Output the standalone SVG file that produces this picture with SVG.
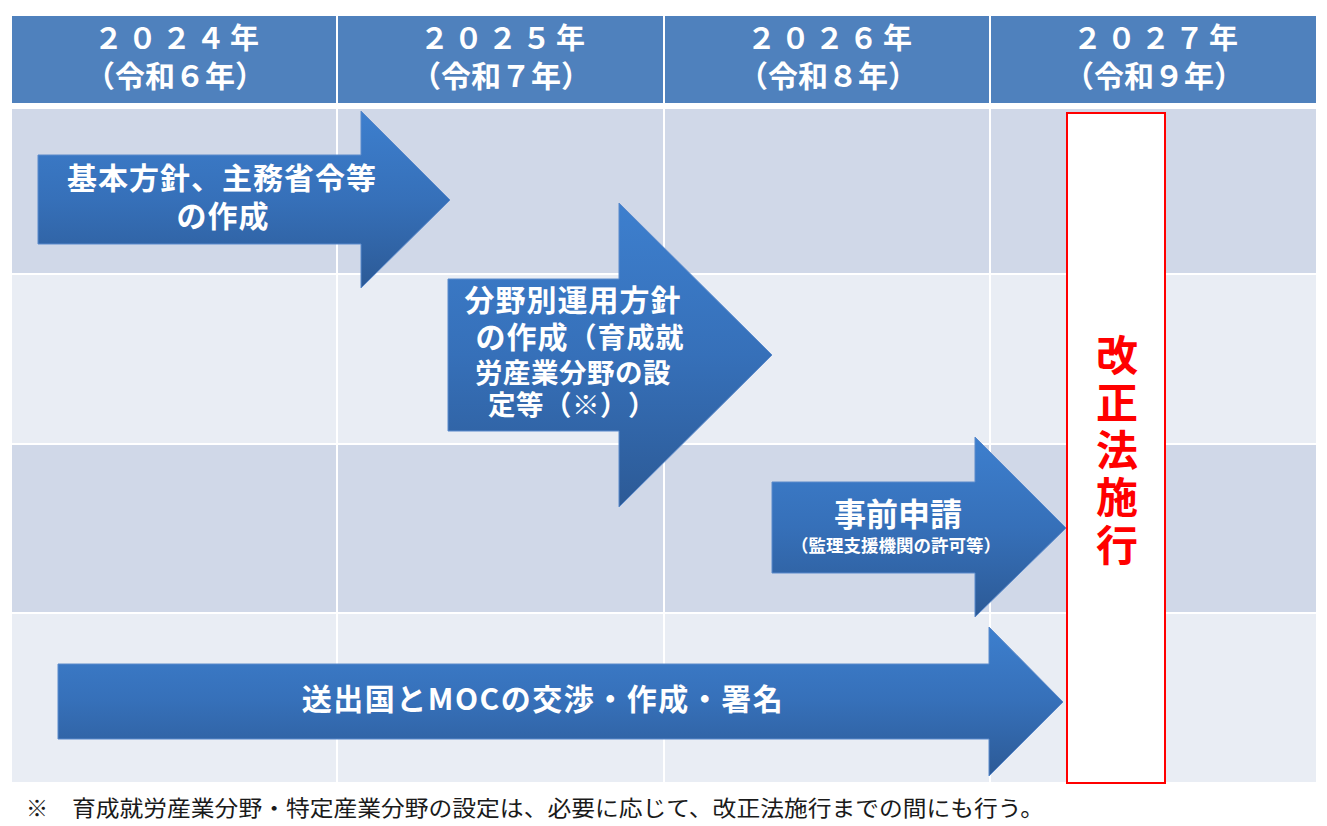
<svg xmlns="http://www.w3.org/2000/svg" width="1327" height="826" viewBox="0 0 1327 826">
<defs>
<linearGradient id="ag" x1="0" y1="0" x2="0" y2="1">
<stop offset="0" stop-color="#3D7FCE"/>
<stop offset="0.5" stop-color="#3670B9"/>
<stop offset="1" stop-color="#2C5A96"/>
</linearGradient>
<style>
text{text-spacing-trim:space-all}
.hd{fill:#4F81BD}
.r1{fill:#D0D8E8}
.r2{fill:#E9EDF4}
.gl{stroke:#FFFFFF;stroke-width:2;fill:none}
.arr{fill:url(#ag);stroke:#5B8ACB;stroke-width:1}
.ht{font-family:"Noto Sans CJK JP","Noto Sans",sans-serif;font-weight:bold;fill:#FFFFFF;text-anchor:middle}
.at{font-family:"Noto Sans CJK JP","Noto Sans",sans-serif;font-weight:bold;fill:#FFFFFF;text-anchor:middle}
.rt{font-family:"Noto Sans CJK JP",sans-serif;font-weight:bold;fill:#FF0000;font-size:42px;writing-mode:vertical-rl;letter-spacing:5.5px}
.fn{font-family:"Noto Sans CJK JP",sans-serif;fill:#1A1A1A;font-size:22px}
</style>
</defs>
<rect width="1327" height="826" fill="#FFFFFF"/>
<g id="grid">
<rect class="hd" x="12" y="16" width="1304" height="87"/>
<rect class="r1" x="12" y="109" width="1304" height="165"/>
<rect class="r2" x="12" y="274" width="1304" height="170"/>
<rect class="r1" x="12" y="444" width="1304" height="169"/>
<rect class="r2" x="12" y="613" width="1304" height="169"/>
<line class="gl" x1="12" y1="274" x2="1316" y2="274"/>
<line class="gl" x1="12" y1="444" x2="1316" y2="444"/>
<line class="gl" x1="12" y1="613" x2="1316" y2="613"/>
<line class="gl" x1="337" y1="16" x2="337" y2="782"/>
<line class="gl" x1="664" y1="16" x2="664" y2="782"/>
<line class="gl" x1="990" y1="16" x2="990" y2="782"/>
</g>
<g id="headers">
<g id="h2024"><text class="ht"><tspan x="179" y="49" font-size="29" letter-spacing="5">２０２４年</tspan><tspan x="175" y="87" font-size="30">（令和６年）</tspan></text></g>
<g id="h2025"><text class="ht"><tspan x="505" y="49" font-size="29" letter-spacing="5">２０２５年</tspan><tspan x="501" y="87" font-size="30">（令和７年）</tspan></text></g>
<g id="h2026"><text class="ht"><tspan x="832" y="49" font-size="29" letter-spacing="5">２０２６年</tspan><tspan x="828" y="87" font-size="30">（令和８年）</tspan></text></g>
<g id="h2027"><text class="ht"><tspan x="1158" y="49" font-size="29" letter-spacing="5">２０２７年</tspan><tspan x="1154" y="87" font-size="30">（令和９年）</tspan></text></g>
</g>
<g id="law">
<rect x="1067" y="113" width="98" height="670" fill="#FFFFFF" stroke="#FF0000" stroke-width="2"/>
<text class="rt" x="1117" y="334">改正法施行</text>
</g>
<g id="arrow1">
<path class="arr" d="M38,155 L361,155 L361,111 L450,200 L361,288 L361,244 L38,244 Z"/>
<text class="at" font-size="30" letter-spacing="1"><tspan x="222" y="189">基本方針、主務省令等</tspan><tspan x="223" y="227">の作成</tspan></text>
</g>
<g id="arrow2">
<path class="arr" d="M448,279 L619,279 L619,203 L772,355 L619,507 L619,431 L448,431 Z"/>
<text class="at" font-size="30" letter-spacing="1"><tspan x="573" y="311">分野別運用方針</tspan><tspan x="580" y="348">の作成</tspan><tspan font-size="28">（育成就</tspan><tspan x="573" y="383" font-size="27.5" letter-spacing="0.5">労産業分野の設</tspan><tspan x="572" y="415" font-size="27.5" letter-spacing="0.5">定等（※））</tspan></text>
</g>
<g id="arrow3">
<path class="arr" d="M772,482 L975,482 L975,437 L1066,528 L975,617 L975,573 L772,573 Z"/>
<text class="at"><tspan x="898" y="526" font-size="32">事前申請</tspan><tspan x="896" y="552" font-size="17.5">（監理支援機関の許可等）</tspan></text>
</g>
<g id="arrow4">
<path class="arr" d="M58,664 L989,664 L989,627 L1063,702 L989,776 L989,739 L58,739 Z"/>
<text class="at" x="543" y="710" font-size="30" letter-spacing="1.5">送出国とMOCの交渉・作成・署名</text>
</g>
<g id="note">
<text class="fn" x="26" y="816">※</text>
<text class="fn" x="72" y="816" textLength="972" lengthAdjust="spacingAndGlyphs">育成就労産業分野・特定産業分野の設定は、必要に応じて、改正法施行までの間にも行う。</text>
</g>
</svg>
